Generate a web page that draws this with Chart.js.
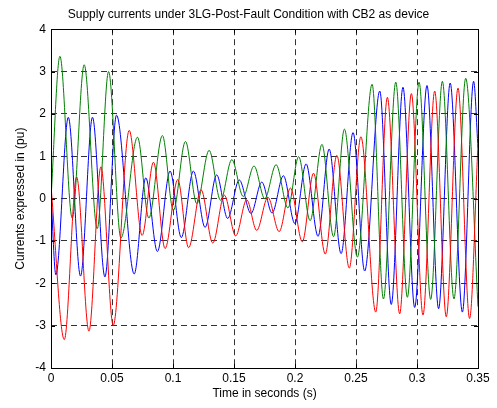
<!DOCTYPE html>
<html>
<head>
<meta charset="utf-8">
<script src="https://cdn.jsdelivr.net/npm/chart.js@4/dist/chart.umd.min.js"></script>
<style>
  body { margin: 0; background: #fff; }
  #wrap { width: 497px; height: 408px; }
</style>
</head>
<body>
<div id="wrap"><canvas id="currents" width="497" height="408"></canvas></div>
<script>
// peaks / troughs (time in s, current in pu)
var redT = [0, 0.0109, 0.0210, 0.0311, 0.0409, 0.0510, 0.0641, 0.0747, 0.0840, 0.0935, 0.1039, 0.1128, 0.1230, 0.1326, 0.1421, 0.1514, 0.1604, 0.1686, 0.1778, 0.1870, 0.1963, 0.2060, 0.2152, 0.2248, 0.2343, 0.2445, 0.2540, 0.2662, 0.2757, 0.2858, 0.2954, 0.3049, 0.3145, 0.3240, 0.3336, 0.3431, 0.35];
var redI = [0.30, -3.33, 0.51, -3.13, 0.75, -2.99, 1.61, -0.87, 0.86, -1.18, 0.45, -1.16, 0.21, -1.05, 0.08, -0.88, -0.03, -0.75, 0.03, -0.78, 0.25, -1.02, 0.60, -1.31, 1.02, -1.64, 1.46, -2.68, 2.39, -2.72, 2.48, -2.75, 2.54, -2.79, 2.61, -2.83, 1.3];

var greenT = [0, 0.0073, 0.0174, 0.0272, 0.0379, 0.0472, 0.0573, 0.0709, 0.0802, 0.0913, 0.1003, 0.1102, 0.1195, 0.1296, 0.1390, 0.1482, 0.1576, 0.1664, 0.1752, 0.1845, 0.1942, 0.2030, 0.2124, 0.2221, 0.2316, 0.2405, 0.2511, 0.2632, 0.2725, 0.2826, 0.2921, 0.3017, 0.3112, 0.3208, 0.3303, 0.3399, 0.35];
var greenI = [0.0, 3.36, -0.46, 3.16, -0.71, 3.00, -0.93, 1.45, -0.46, 1.49, -0.28, 1.35, -0.12, 1.14, -0.04, 0.92, 0.05, 0.77, 0.00, 0.80, -0.22, 0.99, -0.52, 1.28, -0.90, 1.64, -1.38, 2.70, -2.37, 2.75, -2.33, 2.75, -2.38, 2.77, -2.37, 2.84, -2.55];

var blueT = [0, 0.0040, 0.0142, 0.0242, 0.0340, 0.0442, 0.0537, 0.0682, 0.0777, 0.0872, 0.0976, 0.1068, 0.1167, 0.1263, 0.1358, 0.1448, 0.1543, 0.1639, 0.1728, 0.1812, 0.1905, 0.1999, 0.2091, 0.2189, 0.2280, 0.2378, 0.2476, 0.2571, 0.2695, 0.2789, 0.2885, 0.2981, 0.3082, 0.3177, 0.3272, 0.3372, 0.3464, 0.35];
var blueI = [0.10, -1.80, 1.92, -1.83, 1.92, -1.85, 1.97, -1.78, 0.49, -1.25, 0.65, -0.92, 0.65, -0.68, 0.56, -0.47, 0.44, -0.35, 0.39, -0.34, 0.54, -0.59, 0.82, -0.89, 1.17, -1.30, 1.56, -1.71, 2.54, -2.50, 2.63, -2.57, 2.67, -2.60, 2.73, -2.68, 2.77, 1.2];

var xTicks = [0, 0.05, 0.1, 0.15, 0.2, 0.25, 0.3, 0.35];
var yTicks = [-4, -3, -2, -1, 0, 1, 2, 3, 4];

function pts(t, v) {
  return t.map(function (x, i) { return { x: x, y: v[i] }; });
}

Chart.defaults.font.family = '"Liberation Sans", Arial, Helvetica, sans-serif';
Chart.defaults.font.size = 12;
Chart.defaults.color = '#000';

// black box with inward tick marks, like the matlab axes
var boxPlugin = {
  id: 'box',
  afterDraw: function (chart) {
    var ctx = chart.ctx, a = chart.chartArea, sx = chart.scales.x, sy = chart.scales.y;
    ctx.save();
    ctx.strokeStyle = '#000';
    ctx.lineWidth = 1;
    ctx.setLineDash([]);
    ctx.strokeRect(Math.round(a.left) + 0.5, Math.round(a.top) + 0.5, Math.round(a.right - a.left), Math.round(a.bottom - a.top));
    ctx.beginPath();
    xTicks.forEach(function (v) {
      var px = Math.round(sx.getPixelForValue(v)) + 0.5;
      ctx.moveTo(px, a.bottom); ctx.lineTo(px, a.bottom - 4);
      ctx.moveTo(px, a.top); ctx.lineTo(px, a.top + 4);
    });
    yTicks.forEach(function (v) {
      var py = Math.round(sy.getPixelForValue(v)) + 0.5;
      ctx.moveTo(a.left, py); ctx.lineTo(a.left + 4, py);
      ctx.moveTo(a.right, py); ctx.lineTo(a.right - 4, py);
    });
    ctx.stroke();
    ctx.restore();
  }
};

new Chart(document.getElementById('currents'), {
  type: 'line',
  data: {
    datasets: [
      { data: pts(redT, redI), borderColor: '#ff0000' },
      { data: pts(greenT, greenI), borderColor: '#008000' },
      { data: pts(blueT, blueI), borderColor: '#0000ff' }
    ]
  },
  options: {
    responsive: false,
    animation: false,
    layout: { padding: 0 },
    elements: {
      point: { radius: 0 },
      line: { borderWidth: 1, fill: false, cubicInterpolationMode: 'monotone' }
    },
    plugins: {
      legend: { display: false },
      tooltip: { enabled: false },
      title: {
        display: true,
        text: 'Supply currents under 3LG-Post-Fault Condition with CB2 as device',
        font: { size: 12, weight: 'normal' },
        padding: { top: 7.5, bottom: 7.3 }
      }
    },
    scales: {
      x: {
        type: 'linear',
        min: 0,
        max: 0.35,
        afterBuildTicks: function (s) { s.ticks = xTicks.map(function (v) { return { value: v }; }); },
        afterFit: function (s) { s.height = 40; },
        ticks: {
          padding: 3,
          maxRotation: 0,
          callback: function (v) { return String(Number(v.toFixed(2))); }
        },
        grid: { color: 'rgba(0,0,0,0.8)', lineWidth: 1, drawTicks: false },
        border: { display: false, dash: [6, 4] },
        title: { display: true, text: 'Time in seconds (s)', font: { size: 12 }, padding: { top: 0, bottom: 7 } }
      },
      y: {
        min: -4,
        max: 4,
        afterBuildTicks: function (s) { s.ticks = yTicks.map(function (v) { return { value: v }; }); },
        afterFit: function (s) { s.width = 51; },
        ticks: { padding: 5 },
        grid: { color: 'rgba(0,0,0,0.8)', lineWidth: 1, drawTicks: false },
        border: { display: false, dash: [6, 4] },
        title: { display: true, text: 'Currents expressed in (pu)', font: { size: 12 }, padding: { top: 13, bottom: 0 } }
      },
      // empty right-hand axis, only to keep the right margin
      yRight: {
        position: 'right',
        min: -4,
        max: 4,
        afterFit: function (s) { s.width = 19; },
        ticks: { display: false },
        grid: { display: false, drawTicks: false },
        border: { display: false }
      }
    }
  },
  plugins: [boxPlugin]
});
</script>
</body>
</html>
